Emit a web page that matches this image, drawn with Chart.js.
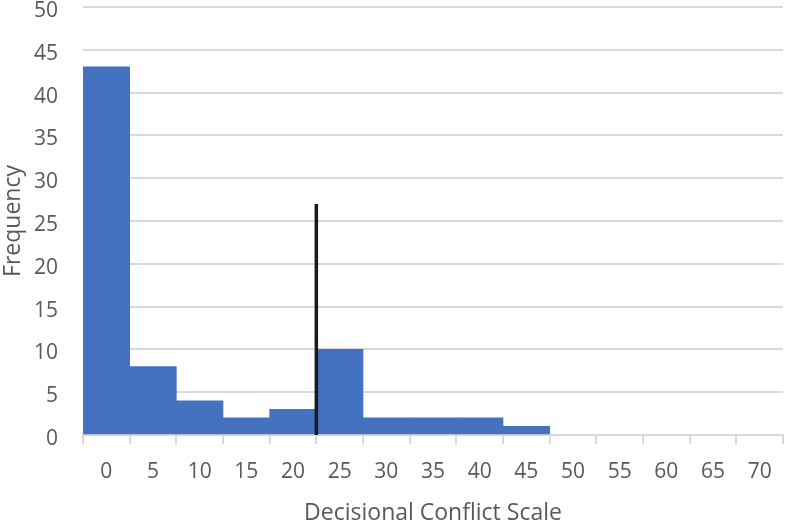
<!DOCTYPE html>
<html>
<head>
<meta charset="utf-8">
<script src="https://cdn.jsdelivr.net/npm/chart.js@4/dist/chart.umd.min.js"></script>
<style>
  html, body { margin: 0; padding: 0; background: #fff; }
</style>
</head>
<body>
<canvas id="chart" width="787" height="522"></canvas>
<script>
// histogram bins (lower edge labels) and counts
const bins = ['0', '5', '10', '15', '20', '25', '30', '35', '40', '45', '50', '55', '60', '65', '70'];
const counts = [43, 8, 4, 2, 3, 10, 2, 2, 2, 1, 0, 0, 0, 0, 0];
const yTicks = [0, 5, 10, 15, 20, 25, 30, 35, 40, 45, 50];
// cutoff marker: x position in scale units, height in frequency
const cutoffX = [22.5, 22.5];
const cutoffY = [0, 27];

const grey = '#595959';
const gridGrey = '#d9d9d9';
const tickFont = { family: 'Open Sans', size: 21 };
const titleFont = { family: 'Open Sans', size: 23 };

new Chart(document.getElementById('chart'), {
  type: 'bar',
  data: {
    labels: bins,
    datasets: [
      {
        type: 'bar',
        label: 'Frequency',
        data: counts.map(v => (v === 0 ? null : v)), // empty bins draw nothing
        backgroundColor: '#4571c1',
        barPercentage: 1,
        categoryPercentage: 1,
        grouped: false,
        xAxisID: 'x',
        order: 2,
      },
      {
        type: 'line',
        label: 'Cutoff',
        data: cutoffX.map((x, i) => ({ x: x, y: cutoffY[i] })),
        borderColor: '#1a1a1a',
        borderWidth: 3.5,
        pointRadius: 0,
        xAxisID: 'x2',
        order: 1,
      },
    ],
  },
  options: {
    responsive: false,
    animation: false,
    layout: { padding: { top: 7, right: 4, left: 0, bottom: -5 } },
    plugins: { legend: { display: false }, tooltip: { enabled: false } },
    scales: {
      x: {
        type: 'category',
        offset: true,
        grid: {
          offset: true,
          drawOnChartArea: false,
          drawTicks: true,
          tickLength: 9,
          color: gridGrey,
          lineWidth: 2,
        },
        border: { display: true, color: gridGrey, width: 2 },
        ticks: { color: grey, font: tickFont, padding: 15, maxRotation: 0 },
        title: {
          display: true,
          text: 'Decisional Conflict Scale',
          color: grey,
          font: titleFont,
          padding: { top: 0, bottom: 0 },
        },
        afterFit: (axis) => { axis.height = 92; },
      },
      x2: {
        type: 'linear',
        display: false,
        offset: false,
        grid: { offset: false },
        min: -2.5,
        max: 72.5,
      },
      y: {
        min: 0,
        max: 50,
        afterBuildTicks: (axis) => { axis.ticks = yTicks.map(v => ({ value: v })); },
        grid: { color: gridGrey, lineWidth: 2, drawTicks: false },
        border: { display: false },
        ticks: { color: grey, font: tickFont, padding: 25, labelOffset: 4 },
        title: {
          display: true,
          text: 'Frequency',
          color: grey,
          font: titleFont,
          padding: { top: 0, bottom: 0 },
        },
        afterFit: (axis) => {
          axis.width = 83;
          axis.paddingTop = 0;
          axis.paddingBottom = 0;
        },
      },
    },
  },
});
</script>
</body>
</html>
